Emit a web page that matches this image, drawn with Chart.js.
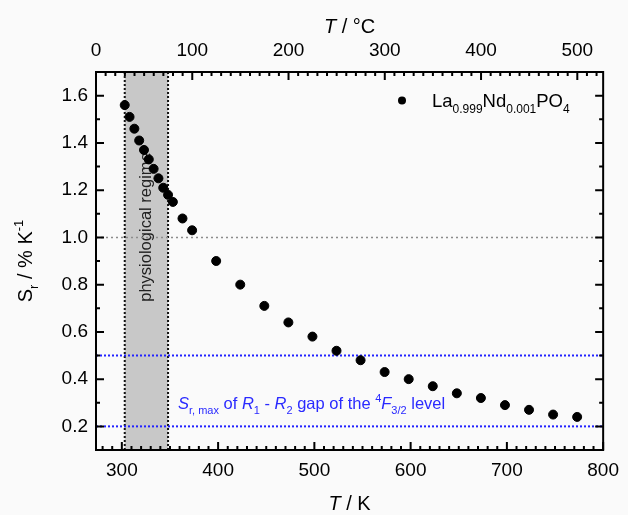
<!DOCTYPE html>
<html>
<head>
<meta charset="utf-8">
<script src="https://cdn.jsdelivr.net/npm/chart.js@4/dist/chart.umd.min.js"></script>
<style>
    html, body { margin: 0; padding: 0; background: #fafafa; }
    #holder { width: 628px; height: 515px; }
</style>
</head>
<body>
<div id="holder">
    <canvas id="srChart" width="628" height="515"></canvas>
</div>

<script>
    // temperature in K and relative sensitivity in % K^-1
    const tempK = [303, 308, 313, 318, 323, 328, 333, 338, 343, 348, 353, 363, 373,
        398, 423, 448, 473, 498, 523, 548, 573, 598, 623, 648, 673, 698, 723, 748, 773];
    const relSens = [1.56, 1.51, 1.46, 1.41, 1.37, 1.33, 1.29, 1.25, 1.21, 1.18, 1.15, 1.08, 1.03,
        0.90, 0.80, 0.71, 0.64, 0.58, 0.52, 0.48, 0.43, 0.40, 0.37, 0.34, 0.32, 0.29, 0.27, 0.25, 0.24];

    const ticksK = [300, 400, 500, 600, 700, 800];
    const ticksC = [0, 100, 200, 300, 400, 500];
    const ticksSr = [0.2, 0.4, 0.6, 0.8, 1.0, 1.2, 1.4, 1.6];

    const regimeK = [303, 348];      // physiological regime
    const refLevel = [1.0];          // grey dotted line
    const gapLevels = [0.5, 0.2];    // Sr,max of the R1 - R2 gap

    const KELVIN = 273.15;
    const FONT = "'Liberation Sans', Arial, sans-serif";

    // draws a run of text pieces with italics, subscripts and superscripts
    function richText(ctx, parts, x, y, size, align) {
        var small = Math.round(size * 0.66);
        function fontOf(p) {
            var s = (p.sub || p.sup) ? small : size;
            return (p.it ? 'italic ' : '') + s + 'px ' + FONT;
        }
        var total = 0;
        parts.forEach(function (p) { ctx.font = fontOf(p); total += ctx.measureText(p.t).width; });
        var cx = align === 'center' ? x - total / 2 : x;
        ctx.textAlign = 'left';
        ctx.textBaseline = 'alphabetic';
        parts.forEach(function (p) {
            ctx.font = fontOf(p);
            var dy = p.sub ? size * 0.3 : (p.sup ? -size * 0.45 : 0);
            ctx.fillText(p.t, cx, y + dy);
            cx += ctx.measureText(p.t).width;
        });
    }

    function dottedLine(ctx, x1, y1, x2, y2, color, width, dash) {
        ctx.save();
        ctx.strokeStyle = color;
        ctx.lineWidth = width;
        ctx.setLineDash(dash);
        ctx.beginPath();
        ctx.moveTo(x1, y1);
        ctx.lineTo(x2, y2);
        ctx.stroke();
        ctx.restore();
    }

    const decorations = {
        id: 'decorations',
        beforeDatasetsDraw: function (chart) {
            var ctx = chart.ctx, a = chart.chartArea;
            var x = chart.scales.x, y = chart.scales.y;
            var x1 = x.getPixelForValue(regimeK[0]), x2 = x.getPixelForValue(regimeK[1]);

            ctx.save();
            ctx.fillStyle = '#c8c8c8';
            ctx.fillRect(x1, a.top, x2 - x1, a.bottom - a.top);
            ctx.restore();
            dottedLine(ctx, x1, a.top, x1, a.bottom, '#111', 2, [2, 2]);
            dottedLine(ctx, x2, a.top, x2, a.bottom, '#111', 2, [2, 2]);

            ctx.save();
            ctx.translate((x1 + x2) / 2 + 5, 227);
            ctx.rotate(-Math.PI / 2);
            ctx.fillStyle = '#222';
            ctx.font = '16.5px ' + FONT;
            ctx.textAlign = 'center';
            ctx.fillText('physiological regime', 0, 0);
            ctx.restore();

            refLevel.forEach(function (v) {
                var py = y.getPixelForValue(v);
                dottedLine(ctx, a.left, py, a.right, py, '#8c8c8c', 1.5, [2, 3]);
            });
            gapLevels.forEach(function (v) {
                var py = y.getPixelForValue(v);
                dottedLine(ctx, a.left, py, a.right, py, '#2222ff', 2, [2, 2]);
            });

            ctx.fillStyle = '#2a2aff';
            richText(ctx, [
                { t: 'S', it: true }, { t: 'r, max', sub: true }, { t: ' of ' },
                { t: 'R', it: true }, { t: '1', sub: true }, { t: ' - ' },
                { t: 'R', it: true }, { t: '2', sub: true }, { t: ' gap of the ' },
                { t: '4', sup: true }, { t: 'F', it: true }, { t: '3/2', sub: true }, { t: ' level' }
            ], 178, 409, 16.5, 'left');
        },
        afterDraw: function (chart) {
            var ctx = chart.ctx, a = chart.chartArea;
            var x = chart.scales.x, xc = chart.scales.xc, y = chart.scales.y;
            var v, p;

            ctx.save();
            ctx.strokeStyle = '#000';
            ctx.lineWidth = 2;
            ctx.strokeRect(a.left, a.top, a.right - a.left, a.bottom - a.top);

            // inward ticks on all four sides
            ctx.beginPath();
            for (v = 280; v <= 800; v += 10) {
                p = x.getPixelForValue(v);
                var len = v % 100 === 0 ? 8 : 4;
                ctx.moveTo(p, a.bottom);
                ctx.lineTo(p, a.bottom - len);
            }
            for (v = 10; v <= 520; v += 10) {
                p = xc.getPixelForValue(v);
                var lenC = v % 100 === 0 ? 8 : 4;
                ctx.moveTo(p, a.top);
                ctx.lineTo(p, a.top + lenC);
            }
            for (v = 2; v <= 16; v += 1) {
                p = y.getPixelForValue(v / 10);
                var lenY = v % 2 === 0 ? 8 : 4;
                ctx.moveTo(a.left, p);
                ctx.lineTo(a.left + lenY, p);
                ctx.moveTo(a.right, p);
                ctx.lineTo(a.right - lenY, p);
            }
            ctx.stroke();

            // axis titles
            ctx.fillStyle = '#000';
            var midX = (a.left + a.right) / 2;
            richText(ctx, [{ t: 'T', it: true }, { t: ' / °C' }], midX, 33, 20, 'center');
            richText(ctx, [{ t: 'T', it: true }, { t: ' / K' }], midX, 510, 20, 'center');

            ctx.translate(32, (a.top + a.bottom) / 2);
            ctx.rotate(-Math.PI / 2);
            richText(ctx, [{ t: 'S' }, { t: 'r', sub: true }, { t: ' / % K' }, { t: '-1', sup: true }], 0, 0, 20, 'center');
            ctx.restore();

            // legend
            ctx.save();
            ctx.fillStyle = '#000';
            ctx.beginPath();
            ctx.arc(402, 100.5, 4, 0, Math.PI * 2);
            ctx.fill();
            richText(ctx, [
                { t: 'La' }, { t: '0.999', sub: true }, { t: 'Nd' }, { t: '0.001', sub: true },
                { t: 'PO' }, { t: '4', sub: true }
            ], 432, 107, 18.5, 'left');
            ctx.restore();
        }
    };

    var tickFont = { family: FONT, size: 19 };

    var ctx = document.getElementById('srChart');
    var srChart = new Chart(ctx, {
        type: 'scatter',
        data: {
            datasets: [{
                label: 'La0.999Nd0.001PO4',
                data: tempK.map(function (t, i) { return { x: t, y: relSens[i] }; }),
                backgroundColor: '#000',
                borderColor: '#000',
                pointRadius: 4.5,
                showLine: false
            }]
        },
        options: {
            responsive: false,
            animation: false,
            layout: { padding: { left: 0, right: 16, top: 0, bottom: 0 } },
            plugins: {
                legend: { display: false },
                tooltip: { enabled: false }
            },
            scales: {
                x: {
                    type: 'linear',
                    position: 'bottom',
                    min: KELVIN,
                    max: 800,
                    afterBuildTicks: function (s) { s.ticks = ticksK.map(function (v) { return { value: v }; }); },
                    afterFit: function (s) { s.height = 65; },
                    grid: { display: false, drawTicks: false },
                    border: { display: false },
                    ticks: { color: '#000', font: tickFont, padding: 9, maxRotation: 0 }
                },
                xc: {
                    type: 'linear',
                    position: 'top',
                    min: 0,
                    max: 800 - KELVIN,
                    afterBuildTicks: function (s) { s.ticks = ticksC.map(function (v) { return { value: v }; }); },
                    afterFit: function (s) { s.height = 72; },
                    grid: { display: false, drawTicks: false },
                    border: { display: false },
                    ticks: { color: '#000', font: tickFont, padding: 10, maxRotation: 0 }
                },
                y: {
                    type: 'linear',
                    min: 0.1,
                    max: 1.7,
                    afterBuildTicks: function (s) { s.ticks = ticksSr.map(function (v) { return { value: v }; }); },
                    afterFit: function (s) { s.width = 96; },
                    grid: { display: false, drawTicks: false },
                    border: { display: false },
                    ticks: {
                        color: '#000', font: tickFont, padding: 8,
                        callback: function (v) { return v.toFixed(1); }
                    }
                }
            }
        },
        plugins: [decorations]
    });
</script>
</body>
</html>
